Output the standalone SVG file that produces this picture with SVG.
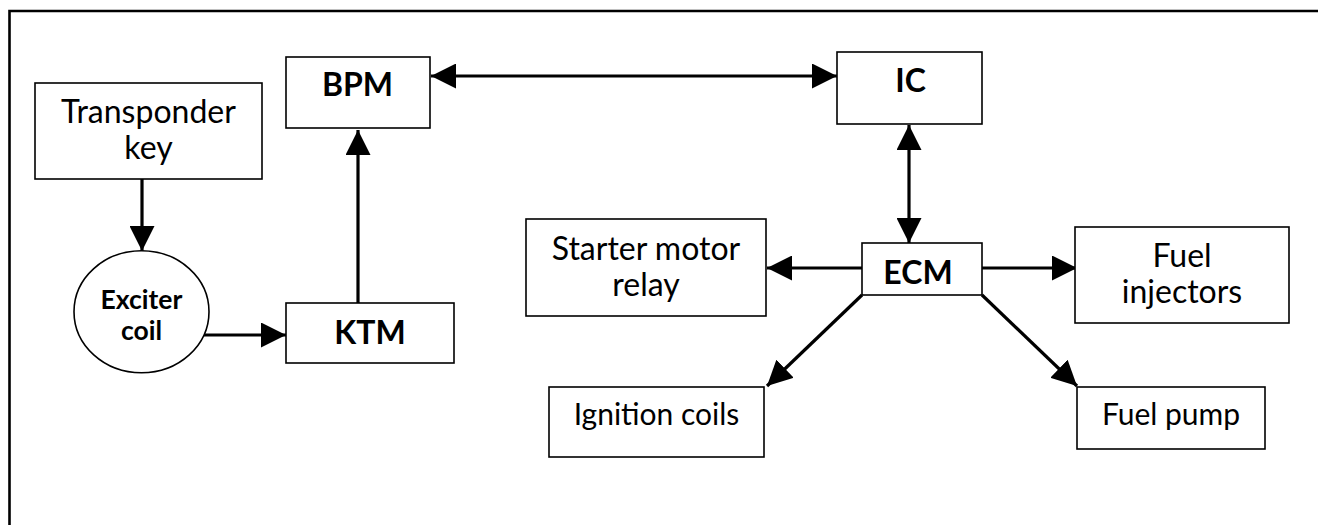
<svg xmlns="http://www.w3.org/2000/svg" width="1318" height="525" viewBox="0 0 1318 525">
<style>
.box{fill:#fff;stroke:#000;stroke-width:1.6}
.t{font-family:Lato,"Open Sans",sans-serif;font-size:32px;fill:#000;text-anchor:middle}
.b{font-weight:bold}
.s{font-size:30px}
.e{font-size:26.5px}
.c{stroke:#000;stroke-width:3.2;fill:none}
</style>
<defs>
<marker id="ah" markerUnits="userSpaceOnUse" markerWidth="25" markerHeight="25" refX="25" refY="12.5" orient="auto-start-reverse" viewBox="0 0 25 25">
<path d="M0,0 L25,12.5 L0,25 z" fill="#000"/>
</marker>
</defs>
<rect x="0" y="0" width="1318" height="525" fill="#fff"/>
<path d="M9.5,525 V11 H1318" fill="none" stroke="#000" stroke-width="2.6"/>
<g id="connectors">
<line class="c" x1="142" y1="179" x2="142" y2="251" marker-end="url(#ah)"/>
<line class="c" x1="203" y1="335" x2="286" y2="335" marker-end="url(#ah)"/>
<line class="c" x1="358" y1="303" x2="358" y2="130" marker-end="url(#ah)"/>
<line class="c" x1="431" y1="76" x2="837" y2="76" marker-start="url(#ah)" marker-end="url(#ah)"/>
<line class="c" x1="909" y1="125" x2="909" y2="243" marker-start="url(#ah)" marker-end="url(#ah)"/>
<line class="c" x1="862" y1="268" x2="767" y2="268" marker-end="url(#ah)"/>
<line class="c" x1="982" y1="268" x2="1077" y2="268" marker-end="url(#ah)"/>
<line class="c" x1="862" y1="295" x2="767" y2="386" marker-end="url(#ah)"/>
<line class="c" x1="982" y1="295" x2="1077" y2="386" marker-end="url(#ah)"/>
</g>
<g id="transponder">
<rect class="box" x="35" y="83" width="227" height="96"/>
<text class="t" x="148.5" y="123">Transponder</text>
<text class="t" x="148.5" y="159">key</text>
</g>
<g id="bpm">
<rect class="box" x="286" y="57" width="144" height="71"/>
<text class="t b" x="357.5" y="96">BPM</text>
</g>
<g id="exciter">
<ellipse class="box" cx="141.5" cy="311.7" rx="67.5" ry="61"/>
<text class="t b e" x="141.5" y="309">Exciter</text>
<text class="t b e" x="141.5" y="340">coil</text>
</g>
<g id="ktm">
<rect class="box" x="286" y="303" width="168" height="60"/>
<text class="t b" x="370" y="344">KTM</text>
</g>
<g id="ic">
<rect class="box" x="837" y="52" width="145" height="72"/>
<text class="t b" x="910.5" y="92">IC</text>
</g>
<g id="ecm">
<rect class="box" x="862" y="243" width="120" height="52"/>
<text class="t b" x="918" y="284">ECM</text>
</g>
<g id="starter">
<rect class="box" x="526" y="219" width="240" height="97"/>
<text class="t" x="646" y="260">Starter motor</text>
<text class="t" x="646" y="296">relay</text>
</g>
<g id="ignition">
<rect class="box" x="549" y="387" width="215" height="70"/>
<text class="t s" x="656.5" y="425">Ignition coils</text>
</g>
<g id="injectors">
<rect class="box" x="1075" y="227" width="214" height="96"/>
<text class="t" x="1182" y="267">Fuel</text>
<text class="t" x="1182" y="303">injectors</text>
</g>
<g id="pump">
<rect class="box" x="1077" y="387" width="188" height="62"/>
<text class="t s" x="1171" y="425">Fuel pump</text>
</g>
</svg>
